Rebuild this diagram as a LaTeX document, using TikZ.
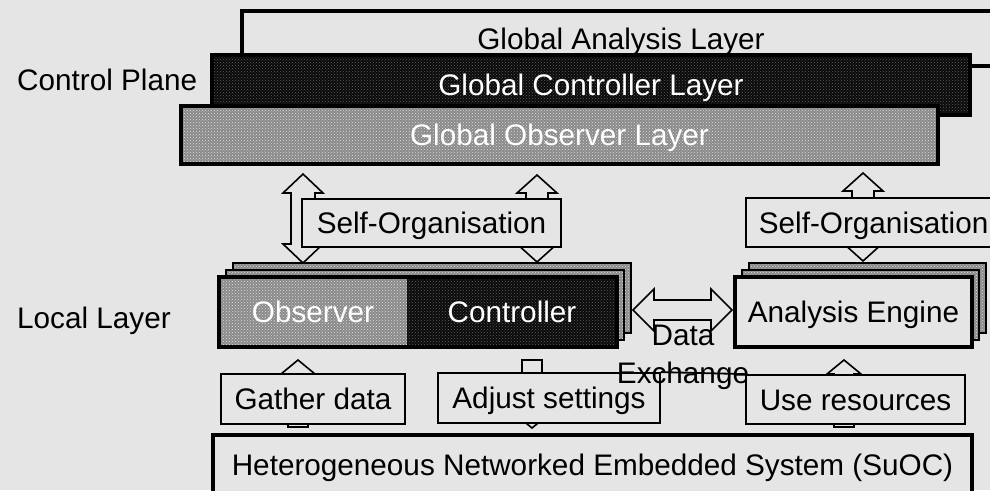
\documentclass[tikz,border=0pt]{standalone}
\usepackage{fontspec}
\setmainfont{Liberation Sans}
\usetikzlibrary{calc,patterns}
\definecolor{bg}{RGB}{229,229,229}
\definecolor{obsgray}{RGB}{138,138,138}
\definecolor{dotlight}{RGB}{222,222,222}
\definecolor{ctrlblack}{RGB}{10,10,10}
\definecolor{dotdark}{RGB}{95,95,95}

% block arrows: #1/#2 end points, #3 shaft half-width, #4 head half-width, #5 head length
\newcommand\blockUD[5]{%
  \draw[blockarrow] (#1) -- ($(#1)+(#4,#5)$) -- ($(#1)+(#3,#5)$) -- ($(#2)+(#3,-#5)$)
    -- ($(#2)+(#4,-#5)$) -- (#2) -- ($(#2)+(-#4,-#5)$) -- ($(#2)+(-#3,-#5)$)
    -- ($(#1)+(-#3,#5)$) -- ($(#1)+(-#4,#5)$) -- cycle;}
\newcommand\blockUp[5]{%
  \draw[blockarrow] (#1) -- ($(#1)+(#4,#5)$) -- ($(#1)+(#3,#5)$) -- ($(#2)+(#3,0)$)
    -- ($(#2)+(-#3,0)$) -- ($(#1)+(-#3,#5)$) -- ($(#1)+(-#4,#5)$) -- cycle;}
\newcommand\blockDown[5]{%
  \draw[blockarrow] ($(#1)+(-#3,0)$) -- ($(#1)+(#3,0)$) -- ($(#2)+(#3,-#5)$)
    -- ($(#2)+(#4,-#5)$) -- (#2) -- ($(#2)+(-#4,-#5)$) -- ($(#2)+(-#3,-#5)$) -- cycle;}
\newcommand\blockLR[5]{%
  \draw[blockarrow] (#1) -- ($(#1)+(#5,-#4)$) -- ($(#1)+(#5,-#3)$) -- ($(#2)+(-#5,-#3)$)
    -- ($(#2)+(-#5,-#4)$) -- (#2) -- ($(#2)+(-#5,#4)$) -- ($(#2)+(-#5,#3)$)
    -- ($(#1)+(#5,#3)$) -- ($(#1)+(#5,#4)$) -- cycle;}

\begin{document}
\begin{tikzpicture}[x=1pt,y=-1pt,
  lbl/.style={font=\fontsize{29.7pt}{36pt}\selectfont, text height=21.3pt, text depth=0pt, inner sep=0pt},
  plain/.style={font=\fontsize{29.7pt}{36pt}\selectfont, inner sep=0pt},
  thinbox/.style={lbl, draw=black, line width=1.8pt, fill=bg},
  thickbox/.style={lbl, draw=black, line width=3.5pt, fill=bg},
  obsfill/.style={preaction={fill=obsgray}, pattern=crosshatch dots, pattern color=dotlight},
  ctrlfill/.style={preaction={fill=ctrlblack}, pattern=crosshatch dots, pattern color=dotdark},
  stacklayer/.style={obsfill, draw=black, line width=1.2pt},
  blockarrow/.style={draw=black, line width=1.6pt, fill=bg, line join=miter},
]
\useasboundingbox (0,0) rectangle (990,490);
\clip (0,0) rectangle (990,490);
\fill[bg] (0,0) rectangle (990,490);

% ---- control plane ----
\node[thickbox, minimum width=758pt, minimum height=55pt] (gal) at (621,38.5) {Global Analysis Layer};
\node[lbl, ctrlfill, draw=black, line width=3.5pt, text=white, minimum width=758pt, minimum height=60pt] (gcl) at (591,85) {Global Controller Layer};
\node[lbl, obsfill, draw=black, line width=3.5pt, text=white, minimum width=757pt, minimum height=58pt] (gol) at (559.5,135) {Global Observer Layer};
\node[plain, anchor=base west] (cp) at (17,90) {Control Plane};
\node[plain, anchor=base west] (ll) at (17,328) {Local Layer};

% ---- self-organisation links ----
\coordinate (soA1) at (303,174); \coordinate (soA2) at (303,263);
\coordinate (soB1) at (537,175); \coordinate (soB2) at (537,262);
\coordinate (soC1) at (863,173); \coordinate (soC2) at (863,261);
\blockUD{soA1}{soA2}{12}{20}{19}
\blockUD{soB1}{soB2}{11}{20}{18}
\blockUD{soC1}{soC2}{11}{20}{18}
\node[thinbox, minimum width=259pt, minimum height=48pt] (so1) at (431.5,223) {Self-Organisation};
\node[thinbox, minimum height=49pt, anchor=west, inner xsep=13pt] (so2) at (745,222.5) {Self-Organisation};

% ---- local layer: observer / controller stack ----
\coordinate (locNW) at (219,277); \coordinate (locSE) at (617,347);
\draw[stacklayer] ($(locNW)+(14,-14)$) rectangle ($(locSE)+(14,-14)$);
\draw[stacklayer] ($(locNW)+(7,-7)$) rectangle ($(locSE)+(7,-7)$);
\node[lbl, obsfill, text=white, minimum width=188pt, minimum height=70pt] (obs) at (313,312) {Observer};
\node[lbl, ctrlfill, text=white, minimum width=210pt, minimum height=70pt] (ctrl) at (512,312) {Controller};
\draw[line width=3.5pt] (obs.north west) rectangle (ctrl.south east);

% ---- local layer: analysis engine stack ----
\coordinate (aeNW) at (735,277); \coordinate (aeSE) at (972,347);
\draw[stacklayer] ($(aeNW)+(14,-14)$) rectangle ($(aeSE)+(14,-14)$);
\draw[stacklayer] ($(aeNW)+(7,-7)$) rectangle ($(aeSE)+(7,-7)$);
\node[thickbox, line width=4pt, minimum width=237pt, minimum height=70pt] (ae) at (853.5,312) {Analysis Engine};

% ---- data exchange ----
\coordinate (dxL) at (633,310); \coordinate (dxR) at (732,310);
\blockLR{dxL}{dxR}{10}{21}{21}

% ---- links to the system ----
\coordinate (gdT) at (298,360); \coordinate (gdB) at (298,427);
\blockUp{gdT}{gdB}{10}{17}{14}
\coordinate (asT) at (532,360); \coordinate (asB) at (532,428);
\blockDown{asT}{asB}{10}{17}{14}
\coordinate (urT) at (844,360); \coordinate (urB) at (844,427);
\blockUp{urT}{urB}{10}{17}{14}
\node[thinbox, minimum width=184pt, minimum height=50pt] (gd) at (313,399) {Gather data};
\node[thinbox, minimum width=222pt, minimum height=50pt] (as) at (549,398) {Adjust settings};
\node[thinbox, minimum width=219pt, minimum height=49pt] (ur) at (855.5,399.5) {Use resources};
\draw[line width=1.8pt] (as.north east) -- (ur.north west);
\node[plain, align=center, anchor=base] (dx) at (683,383) {Data\\[2pt]Exchange};

% ---- system under observation and control ----
\node[thickbox, line width=4pt, minimum width=759pt, minimum height=59pt] (hnes) at (592.5,464.5) {Heterogeneous Networked Embedded System (SuOC)};
\end{tikzpicture}
\end{document}
